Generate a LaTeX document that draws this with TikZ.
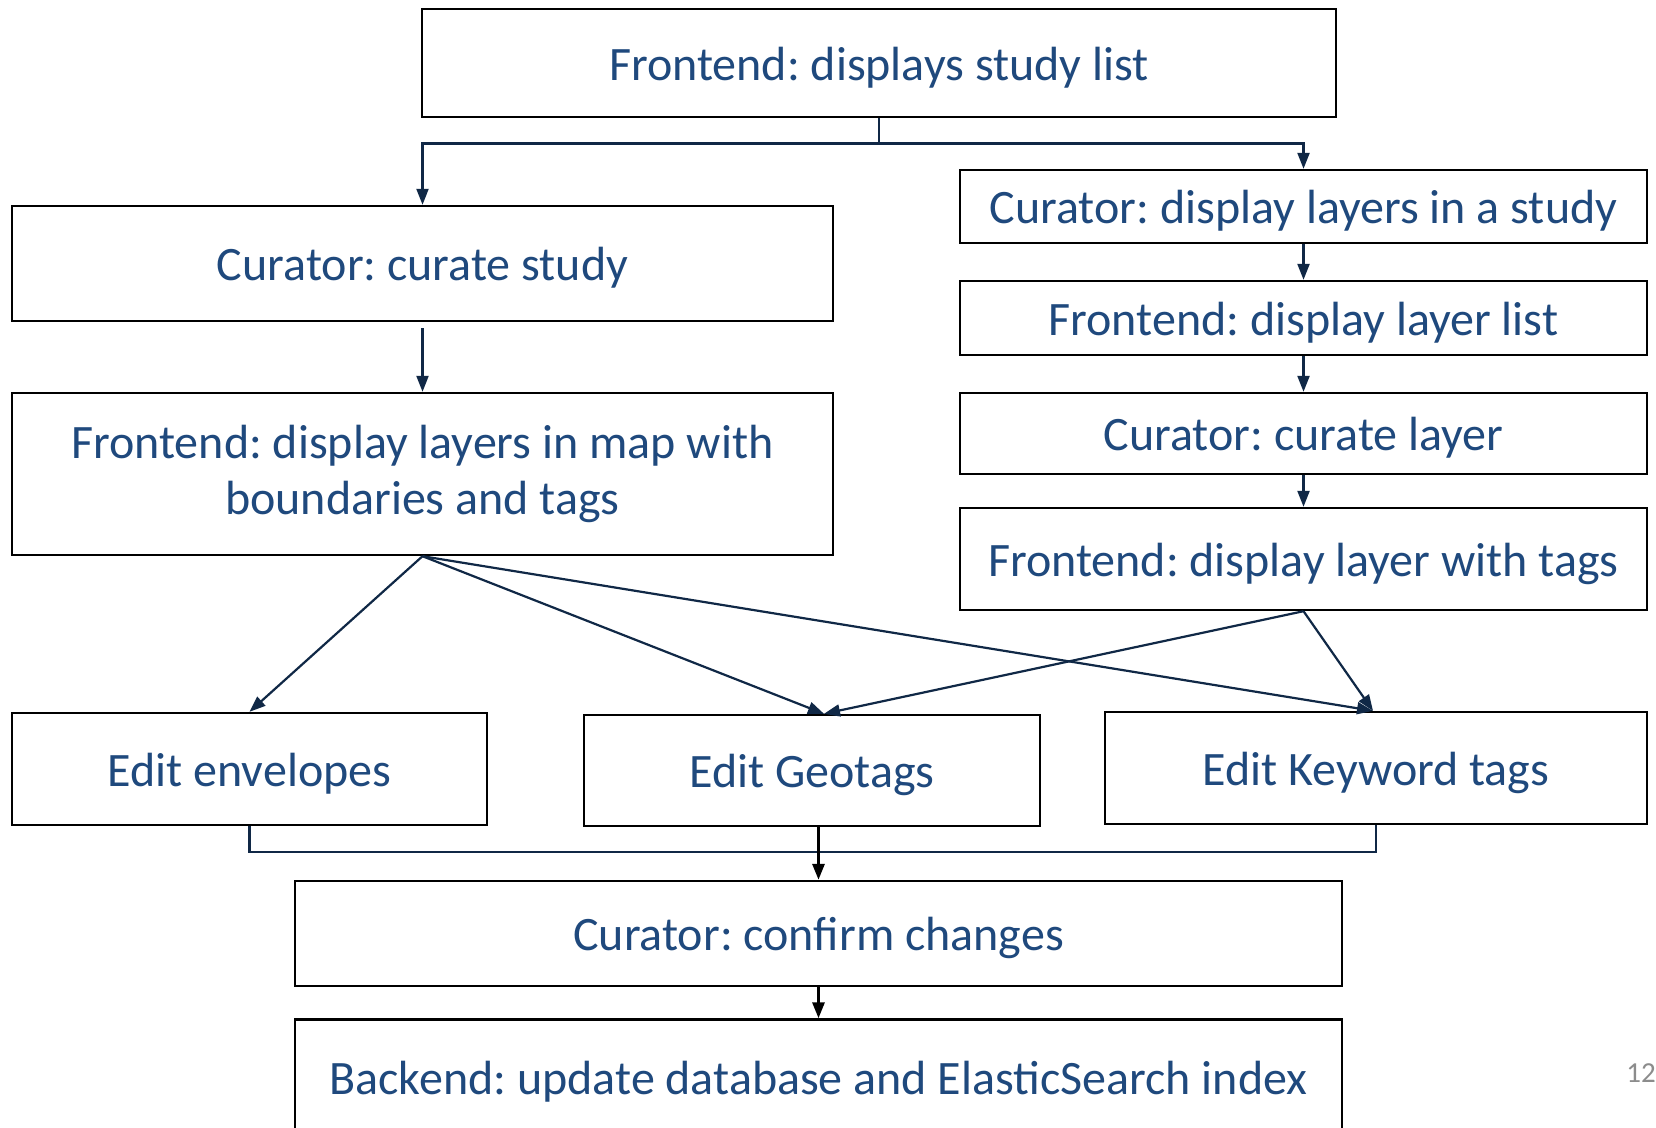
\documentclass[tikz,border=0pt]{standalone}
\usepackage{fontspec}
\setmainfont{Carlito}
\frenchspacing
\usetikzlibrary{arrows.meta}
\definecolor{txtblue}{RGB}{31,73,125}
\definecolor{navy}{RGB}{16,40,70}
\definecolor{numgrey}{RGB}{140,140,140}
\begin{document}
\begin{tikzpicture}[x=1pt,y=-1pt,
  box/.style={draw=black,line width=2.4pt,fill=white,rectangle,inner sep=0pt,
    text=txtblue,align=center,font=\fontsize{48}{56}\selectfont},
  onebox/.style={box,text height=40pt,text depth=6pt},
  conn/.style={draw=navy,line width=2.2pt,-{Triangle[length=16pt,width=12pt]}},
  plain/.style={draw=navy,line width=2.2pt},
  blk/.style={draw=black,line width=3pt,-{Triangle[length=16pt,width=12pt]}}]
\clip (0,0) rectangle (1656,1127);
\fill[white] (0,0) rectangle (1656,1127);

\node[onebox,minimum width=914pt,minimum height=108pt] (top) at (879,63) {Frontend: displays study list};
\node[onebox,minimum width=821pt,minimum height=115pt] (cs) at (422.5,263.5) {Curator: curate study};
\node[box,minimum width=821pt,minimum height=162pt] (fm) at (422.5,474) {Frontend: display layers in map with\\boundaries and tags};
\node[onebox,minimum width=687pt,minimum height=73pt] (cd) at (1303.5,206.5) {Curator: display layers in a study};
\node[onebox,minimum width=687pt,minimum height=74pt] (fl) at (1303.5,318) {Frontend: display layer list};
\node[onebox,minimum width=687pt,minimum height=81pt] (cl) at (1303.5,433.5) {Curator: curate layer};
\node[onebox,minimum width=687pt,minimum height=102pt] (ft) at (1303.5,559) {Frontend: display layer with tags};
\node[onebox,minimum width=475pt,minimum height=112pt] (ee) at (249.5,769) {Edit envelopes};
\node[onebox,minimum width=456pt,minimum height=111pt] (eg) at (812,770.5) {Edit Geotags};
\node[onebox,minimum width=542pt,minimum height=112pt] (ek) at (1376,768) {Edit Keyword tags};
\node[onebox,minimum width=1047pt,minimum height=105pt] (cc) at (818.5,933.5) {Curator: confirm changes};
\node[onebox,minimum width=1047pt,minimum height=115pt] (be) at (818.5,1077) {Backend: update database and ElasticSearch index};
\node[text=numgrey,font=\fontsize{29}{34}\selectfont,anchor=center] (pg) at (1641,1073) {12};

% top split
\coordinate (split) at (879,143.5);
\draw[plain] (top.south) -- (split);
\draw[conn] (split) -| (cs.north);
\draw[conn] (split) -| (cd.north);

% left column
\draw[conn] ([yshift=-6pt]cs.south) -- (fm.north);

% right column
\draw[conn] (cd.south) -- (fl.north);
\draw[conn] (fl.south) -- (cl.north);
\draw[conn] (cl.south) -- (ft.north);

% diagonals
\draw[conn] (fm.south) -- (ee.north);
\draw[conn] (fm.south) -- ([xshift=12pt]eg.north);
\draw[conn] (fm.south) -- ([xshift=-3pt]ek.north);
\draw[conn] (ft.south) -- ([xshift=12pt]eg.north);
\draw[conn] (ft.south) -- ([xshift=-3pt]ek.north);

% bottom merge
\coordinate (merge) at (818.5,852);
\draw[plain] (ee.south) |- (merge);
\draw[plain] (ek.south) |- (merge);
\draw[blk] (cc.north |- eg.south) -- (cc.north);
\draw[blk] (cc.south) -- (be.north);
\end{tikzpicture}
\end{document}
